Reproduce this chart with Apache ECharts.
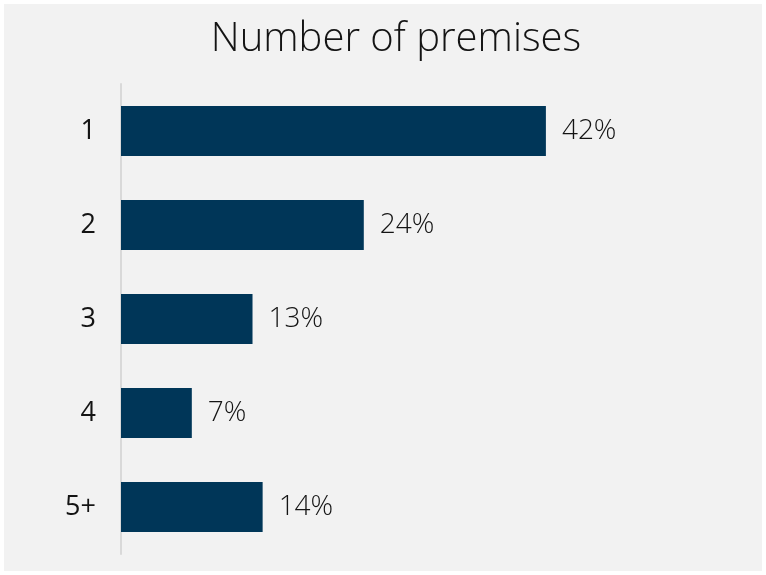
<!DOCTYPE html>
<html>
<head>
<meta charset="utf-8">
<script src="https://cdn.jsdelivr.net/npm/echarts@6/dist/echarts.min.js"></script>
<style>
  html, body { margin: 0; padding: 0; background: #ffffff; }
  #chart { width: 766px; height: 575px; }
</style>
</head>
<body>
<div id="chart"></div>
<script>
// Share of businesses by number of premises
const categories = ['1', '2', '3', '4', '5+'];
const shares = [42, 24, 13, 7, 14];

const chart = echarts.init(document.getElementById('chart'));
const textFont = '"Open Sans", sans-serif';

chart.setOption({
  backgroundColor: '#ffffff',
  graphic: [{
    type: 'rect',
    z: -10,
    silent: true,
    shape: { x: 4, y: 4, width: 758, height: 567 },
    style: { fill: '#f2f2f2' }
  }],
  title: {
    text: 'Number of premises',
    left: 391,
    textAlign: 'center',
    top: 15,
    textStyle: { fontFamily: textFont, fontWeight: 300, fontSize: 40, color: '#141414' }
  },
  grid: { left: 121, right: 38, top: 84, bottom: 21, containLabel: false },
  xAxis: {
    type: 'value',
    min: 0,
    max: 60,
    show: false
  },
  yAxis: {
    type: 'category',
    data: categories,
    inverse: true,
    axisLine: { show: true, lineStyle: { color: '#d9d9d9', width: 2 } },
    axisTick: { show: false },
    axisLabel: { margin: 25, fontFamily: textFont, fontWeight: 400, fontSize: 27, color: '#141414' }
  },
  series: [{
    type: 'bar',
    data: shares,
    barWidth: 50,
    itemStyle: { color: '#003658' },
    label: {
      show: true,
      position: 'right',
      distance: 16,
      formatter: '{c}%',
      fontFamily: textFont,
      fontWeight: 300,
      fontSize: 28,
      color: '#141414'
    }
  }]
});
</script>
</body>
</html>
